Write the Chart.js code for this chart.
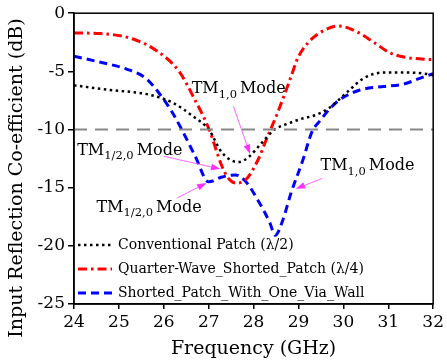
<!DOCTYPE html>
<html>
<head>
<meta charset="utf-8">
<script src="https://cdn.jsdelivr.net/npm/chart.js@4.4.0/dist/chart.umd.min.js"></script>
<style>
  html, body { margin: 0; padding: 0; background: #fff; }
  #wrap { width: 447px; height: 364px; }
</style>
</head>
<body>
<div id="wrap"><canvas id="s11Chart" width="447" height="364"></canvas></div>
<script>
// Conventional patch (lambda/2)
const freqConv = [24, 24.8, 25.67, 26.2, 26.63, 27.0, 27.3, 27.66, 27.88, 28.17, 28.47, 28.76, 29.05, 29.42, 29.7, 30.08, 30.45, 30.9, 31.34, 31.96, 32];
const s11Conv = [-6.2, -6.6, -7.0, -7.7, -8.8, -10.0, -12.0, -12.8, -12.4, -11.2, -10.0, -9.5, -9.1, -8.7, -8.1, -6.8, -5.6, -5.1, -5.1, -5.3, -5.35];

// Quarter-wave shorted patch (lambda/4)
const freqQuarter = [24, 24.6, 25.3, 25.83, 26.34, 26.7, 27.0, 27.3, 27.44, 27.6, 27.83, 28.1, 28.28, 28.54, 28.83, 28.98, 29.2, 29.47, 29.9, 30.3, 30.68, 31.03, 31.4, 32];
const s11Quarter = [-1.7, -1.75, -2.2, -3.2, -5.0, -7.5, -9.9, -13.2, -14.2, -14.6, -14.3, -12.6, -10.9, -8.5, -5.5, -3.9, -2.6, -1.7, -1.1, -1.6, -2.5, -3.4, -3.8, -4.0];

// Shorted patch with one via wall
const freqVia = [24, 24.57, 25.17, 25.6, 25.96, 26.2, 26.4, 26.7, 27.0, 27.28, 27.6, 27.83, 28.1, 28.36, 28.48, 28.65, 28.83, 29.1, 29.3, 29.49, 29.7, 29.93, 30.37, 30.9, 31.34, 31.7, 32];
const s11Via = [-3.7, -4.2, -4.8, -5.6, -7.2, -8.6, -10.0, -12.3, -14.5, -14.1, -13.9, -14.5, -16.1, -18.0, -19.1, -17.8, -15.5, -12.6, -10.2, -9.2, -8.2, -7.4, -6.6, -6.3, -6.1, -5.6, -5.2];

// -10 dB reference line
const freqRef = [24, 32];
const s11Ref = [-10, -10];

const xTicks = [24, 25, 26, 27, 28, 29, 30, 31, 32];
const yTicks = [0, -5, -10, -15, -20, -25];
const yTitle = "Input Reflection Co-efficient (dB)";

// mode labels: [main, subscript, labelX, labelY, arrowFromX, arrowFromY, arrowToX, arrowToY]
const modeNotes = [
  ["TM", "1,0", 26.62, -6.5, 27.55, -8.0, 27.92, -12.1],
  ["TM", "1/2,0", 24.07, -11.8, 26.0, -12.3, 27.26, -13.4],
  ["TM", "1,0", 29.49, -13.1, 29.53, -14.2, 28.94, -15.1],
  ["TM", "1/2,0", 24.5, -16.7, 26.29, -15.9, 26.95, -14.6]
];

const SERIF = "'DejaVu Serif', serif";

function pts(xs, ys) {
  return xs.map((x, i) => ({ x: x, y: ys[i] }));
}

// Frame, legend, y title and mode labels
const extras = {
  id: "extras",
  afterDatasetsDraw(chart) {
    const ctx = chart.ctx;
    const a = chart.chartArea;
    const xs = chart.scales.x, ys = chart.scales.y;
    ctx.save();

    // box around the plot
    ctx.strokeStyle = "#000";
    ctx.lineWidth = 1.5;
    ctx.setLineDash([]);
    ctx.strokeRect(a.left, a.top, a.right - a.left, a.bottom - a.top);

    // y axis title, sitting a little low like the original
    ctx.save();
    ctx.translate(17, 178);
    ctx.rotate(-Math.PI / 2);
    ctx.font = "19px " + SERIF;
    ctx.fillStyle = "#000";
    ctx.textAlign = "center";
    ctx.textBaseline = "middle";
    ctx.fillText(yTitle, 0, 0);
    ctx.restore();

    // legend inside the plot
    const items = chart.data.datasets.filter(d => !d.hideLegend);
    ctx.font = "14px " + SERIF;
    ctx.textBaseline = "middle";
    ctx.textAlign = "left";
    items.forEach((d, i) => {
      const y = a.bottom - 59 + i * 24;
      ctx.beginPath();
      ctx.strokeStyle = d.borderColor;
      ctx.lineWidth = d.borderWidth;
      ctx.setLineDash(d.borderDash || []);
      ctx.moveTo(a.left + 4, y);
      ctx.lineTo(a.left + 38, y);
      ctx.stroke();
      ctx.setLineDash([]);
      ctx.fillStyle = "#000";
      ctx.fillText(d.label, a.left + 44, y);
    });

    // mode annotations
    modeNotes.forEach(n => {
      const lx = xs.getPixelForValue(n[2]);
      const ly = ys.getPixelForValue(n[3]);
      ctx.fillStyle = "#000";
      ctx.font = "16px " + SERIF;
      ctx.textBaseline = "middle";
      ctx.fillText(n[0], lx, ly);
      let w = ctx.measureText(n[0]).width;
      ctx.font = "11.5px " + SERIF;
      ctx.fillText(n[1], lx + w, ly + 6);
      w += ctx.measureText(n[1]).width + 3;
      ctx.font = "16px " + SERIF;
      ctx.fillText("Mode", lx + w, ly);

      const x0 = xs.getPixelForValue(n[4]), y0 = ys.getPixelForValue(n[5]);
      const x1 = xs.getPixelForValue(n[6]), y1 = ys.getPixelForValue(n[7]);
      const ang = Math.atan2(y1 - y0, x1 - x0);
      ctx.strokeStyle = "#ff66ff";
      ctx.fillStyle = "#ff33ff";
      ctx.lineWidth = 1;
      ctx.beginPath();
      ctx.moveTo(x0, y0);
      ctx.lineTo(x1 - 6 * Math.cos(ang), y1 - 6 * Math.sin(ang));
      ctx.stroke();
      ctx.beginPath();
      ctx.moveTo(x1, y1);
      ctx.lineTo(x1 - 10 * Math.cos(ang - 0.35), y1 - 10 * Math.sin(ang - 0.35));
      ctx.lineTo(x1 - 10 * Math.cos(ang + 0.35), y1 - 10 * Math.sin(ang + 0.35));
      ctx.closePath();
      ctx.fill();
    });
    ctx.restore();
  }
};

new Chart(document.getElementById("s11Chart"), {
  type: "line",
  data: {
    datasets: [
      {
        label: "-10 dB",
        hideLegend: true,
        data: pts(freqRef, s11Ref),
        borderColor: "#888888",
        borderWidth: 2,
        borderDash: [13, 8],
        pointRadius: 0
      },
      {
        label: "Conventional Patch (\u03bb/2)",
        data: pts(freqConv, s11Conv),
        borderColor: "#000000",
        borderWidth: 2.5,
        borderDash: [2.5, 3.5],
        pointRadius: 0,
        cubicInterpolationMode: "monotone"
      },
      {
        label: "Quarter-Wave_Shorted_Patch (\u03bb/4)",
        data: pts(freqQuarter, s11Quarter),
        borderColor: "#ff0000",
        borderWidth: 3,
        borderDash: [9, 4, 2.5, 4],
        pointRadius: 0,
        cubicInterpolationMode: "monotone"
      },
      {
        label: "Shorted_Patch_With_One_Via_Wall",
        data: pts(freqVia, s11Via),
        borderColor: "#0000ff",
        borderWidth: 3,
        borderDash: [8, 5],
        pointRadius: 0,
        cubicInterpolationMode: "monotone"
      }
    ]
  },
  options: {
    responsive: false,
    animation: false,
    layout: { padding: { left: 0, right: 10, top: 13, bottom: 0 } },
    plugins: {
      legend: { display: false },
      tooltip: { enabled: false }
    },
    scales: {
      x: {
        type: "linear",
        min: 24,
        max: 32,
        afterBuildTicks: s => { s.ticks = xTicks.map(v => ({ value: v })); },
        afterFit: s => { s.height = 60; },
        ticks: { color: "#000", font: { family: SERIF, size: 17 }, padding: 3, maxRotation: 0 },
        grid: { display: true, drawOnChartArea: false, drawTicks: true, tickLength: 5, color: "#000", lineWidth: 1.5 },
        border: { color: "#000", width: 1.5 },
        title: { display: true, text: "Frequency (GHz)", color: "#000", font: { family: SERIF, size: 19 }, padding: { top: 2 } }
      },
      y: {
        min: -25,
        max: 0,
        afterBuildTicks: s => { s.ticks = yTicks.map(v => ({ value: v })); },
        afterFit: s => { s.width = 74; },
        ticks: { color: "#000", font: { family: SERIF, size: 17 }, padding: 3 },
        grid: { display: true, drawOnChartArea: false, drawTicks: true, tickLength: 6, color: "#000", lineWidth: 1.5 },
        border: { color: "#000", width: 1.5 },
        title: { display: false }
      }
    }
  },
  plugins: [extras]
});
</script>
</body>
</html>
